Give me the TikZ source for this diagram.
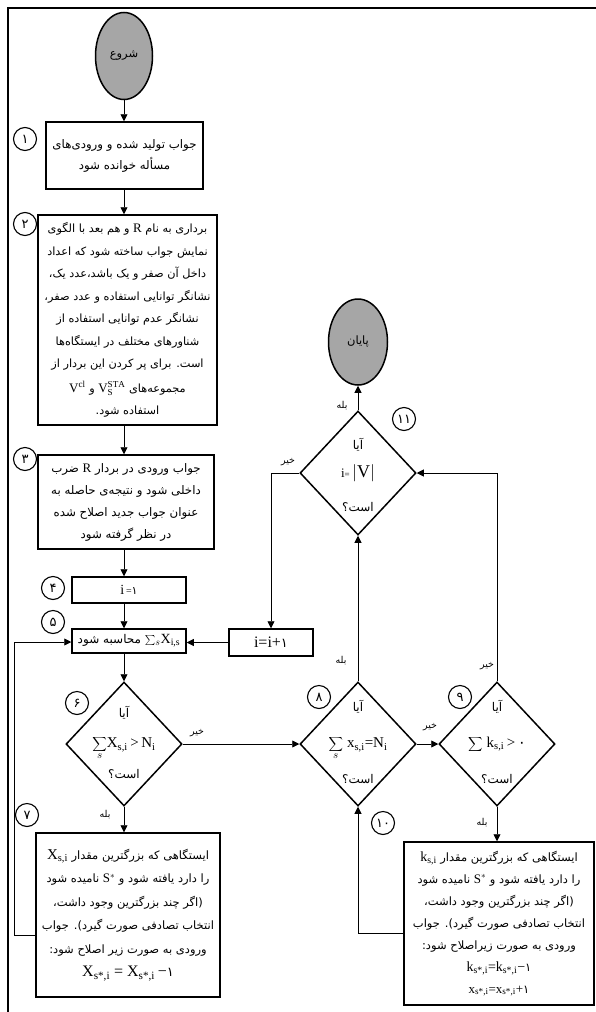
\documentclass[tikz,border=0pt]{standalone}
\usepackage{fontspec}
\setmainfont{Liberation Serif}
\newfontfamily\arabicfont[Script=Arabic]{DejaVu Sans}
\TeXXeTstate=1
\usetikzlibrary{shapes.geometric,arrows.meta,calc}
\definecolor{termgray}{HTML}{A6A6A6}
\newcommand\FA[1]{{\arabicfont\beginR #1\endR}}
\newcommand\LT[1]{\beginL{\rmfamily\fontsize{13}{13}\selectfont #1}\endL{}}
\newcommand\PD[1]{{\arabicfont #1}}
\begin{document}
\begin{tikzpicture}[x=1pt,y=-1pt,
  box/.style={draw, line width=1.5pt, align=center, inner sep=0pt, font=\fontsize{12}{22}\selectfont},
  dia/.style={diamond, draw, line width=1.5pt, minimum width=116pt, minimum height=124pt, inner sep=0pt},
  term/.style={ellipse, draw, line width=1.5pt, fill=termgray, inner sep=0pt, font=\fontsize{11.5}{12}\selectfont},
  num/.style={circle, draw, line width=1.1pt, minimum size=23pt, inner sep=0pt, font=\arabicfont\fontsize{13}{13}\selectfont},
  arr/.style={-{Triangle[length=7pt,width=7pt]}, line width=0.8pt},
  lab/.style={inner sep=0pt, font=\arabicfont\fontsize{9.5}{10}\selectfont},
  dtxt/.style={inner sep=0pt, align=center, font=\fontsize{12}{13}\selectfont},
  form/.style={inner sep=0pt, font=\fontsize{15}{15}\selectfont}]
\useasboundingbox (0,0) rectangle (596,1012);
% frame
\draw[line width=1.8pt] (8,1012) -- (8,8) -- (596,8);
% terminals
\node[term, minimum width=57pt, minimum height=87pt] (start) at (124,56) {\FA{شروع}};
\node[term, minimum width=59pt, minimum height=86pt] (end) at (358,342) {\FA{پایان}};
% boxes
\node[box, minimum width=157pt, minimum height=67pt, font=\fontsize{11.8}{21}\selectfont] (b1) at (124.5,155.5)
  {\FA{جواب تولید شده و ورودی‌های}\\\FA{مسأله خوانده شود}};
\node[box, minimum width=179pt, minimum height=210pt, font=\fontsize{11.3}{22.5}\selectfont] (b2) at (127.5,320)
  {\FA{برداری به نام \LT{R} و هم بعد با الگوی}\\
   \FA{نمایش جواب ساخته شود که اعداد}\\
   \FA{داخل آن صفر و یک باشد،عدد یک،}\\
   \FA{نشانگر توانایی استفاده و عدد صفر،}\\
   \FA{نشانگر عدم توانایی استفاده از}\\
   \FA{شناورهای مختلف در ایستگاه‌ها}\\
   \FA{است. برای پر کردن این بردار از}\\[2pt]
   \FA{مجموعه‌های \LT{$\mathrm{V}_{\mathrm{S}}^{\mathrm{STA}}$} و \LT{V$^{\mathrm{cl}}$}}\\
   \FA{استفاده شود.}};
\node[box, minimum width=176pt, minimum height=94pt, font=\fontsize{11.8}{22}\selectfont] (b3) at (126,502)
  {\FA{جواب ورودی در بردار \LT{R} ضرب}\\
   \FA{داخلی شود و نتیجه‌ی حاصله به}\\
   \FA{عنوان جواب جدید اصلاح شده}\\
   \FA{در نظر گرفته شود}};
\node[box, minimum width=114pt, minimum height=26pt] (b4) at (129,590)
  {{\rmfamily\fontsize{14}{14}\selectfont i}{\fontsize{10}{10}\selectfont\,=}\PD{\fontsize{11}{11}\selectfont ۱}};
\node[box, minimum width=114pt, minimum height=24pt] (b5) at (129,641)
  {\FA{\LT{\fontsize{14}{14}\selectfont$\sum_{s}$X\textsubscript{i,s}} محاسبه شود}};
\node[box, minimum width=84pt, minimum height=27pt, font=\fontsize{16}{16}\selectfont] (inc) at (271,642.5)
  {i=i+\PD{\fontsize{13}{13}\selectfont ۱}};
\node[box, minimum width=184pt, minimum height=164pt, font=\fontsize{11.5}{23.5}\selectfont] (b7) at (128,915)
  {\FA{ایستگاهی که بزرگترین مقدار \LT{\fontsize{15}{15}\selectfont X\textsubscript{s,i}}}\\
   \FA{را دارد یافته شود و \LT{S$^*$} نامیده شود}\\
   \FA{(اگر چند بزرگترین وجود داشت،}\\
   \FA{انتخاب تصادفی صورت گیرد). جواب}\\
   \FA{ورودی به صورت زیر اصلاح شود:}\\
   {\fontsize{16}{16}\selectfont X\textsubscript{s*,i} = X\textsubscript{s*,i}\,−}\PD{\fontsize{13}{13}\selectfont ۱}};
\node[box, minimum width=190pt, minimum height=163pt, font=\fontsize{11.5}{22}\selectfont] (b10) at (499,923.5)
  {\FA{ایستگاهی که بزرگترین مقدار \LT{\fontsize{14}{14}\selectfont k\textsubscript{s,i}}}\\
   \FA{را دارد یافته شود و \LT{S$^*$} نامیده شود}\\
   \FA{(اگر چند بزرگترین وجود داشت،}\\
   \FA{انتخاب تصادفی صورت گیرد). جواب}\\
   \FA{ورودی به صورت زیراصلاح شود:}\\
   {\fontsize{14}{14}\selectfont k\textsubscript{s*,i}=k\textsubscript{s*,i}−}\PD{۱}\\
   {\fontsize{13}{13}\selectfont x\textsubscript{s*,i}=x\textsubscript{s*,i}+}\PD{۱}};
% diamonds
\node[dia] (d6) at (124,744) {};
\node[dia] (d8) at (358,744) {};
\node[dia] (d9) at (497,744) {};
\node[dia] (d11) at (358,473) {};
\node[dtxt] (q6) at (124,713) {\FA{آیا}};
\node[form] (f6) at (124,748) {$\displaystyle\sum_{s}$X\textsubscript{s,i}\,>\,N\textsubscript{i}};
\node[dtxt] (e6) at (124,774) {\FA{است؟}};
\node[dtxt] (q8) at (358,707) {\FA{آیا}};
\node[form] (f8) at (358,748) {$\displaystyle\sum_{s}$\;x\textsubscript{s,i}=N\textsubscript{i}};
\node[dtxt] (e8) at (358,779) {\FA{است؟}};
\node[dtxt] (q9) at (497,707) {\FA{آیا}};
\node[form] (f9) at (497,744) {$\displaystyle\sum$\;k\textsubscript{s,i}\,>\,\PD{۰}};
\node[dtxt] (e9) at (497,779) {\FA{است؟}};
\node[dtxt] (q11) at (358,445) {\FA{آیا}};
\node[form] (f11) at (358,473) {{\fontsize{13}{13}\selectfont i}{\fontsize{9}{9}\selectfont=}\,{\fontsize{18}{18}\selectfont$|$V$|$}};
\node[dtxt] (e11) at (358,507) {\FA{است؟}};
% numbers
\node[num] (n1) at (25,139) {۱};
\node[num] (n2) at (25,224) {۲};
\node[num] (n3) at (25,459) {۳};
\node[num] (n4) at (53,588) {۴};
\node[num] (n5) at (53,622) {۵};
\node[num] (n6) at (77,703) {۶};
\node[num] (n7) at (27,815) {۷};
\node[num] (n8) at (319,697) {۸};
\node[num] (n9) at (460,697) {۹};
\node[num] (n10) at (383,823) {۱۰};
\node[num] (n11) at (404,419) {۱۱};
% main chain
\draw[arr] (start.south) -- (start.south |- b1.north);
\draw[arr] (b1.south -| start) -- (b2.north -| start);
\draw[arr] (b2.south -| start) -- (b3.north -| start);
\draw[arr] (b3.south -| start) -- (b4.north -| start);
\draw[arr] (b4.south -| start) -- (b5.north -| start);
\draw[arr] (b5.south -| start) -- (d6.north);
\draw[arr] (d6.south) -- (d6.south |- b7.north);
\draw[arr] (d6.east) -- (d8.west);
\draw[arr] (d8.east) -- (d9.west);
\draw[arr] (d8.north) -- (d11.south);
\draw[arr] (d11.north) -- (end.south);
\draw[arr] (d9.south) -- (d9.south |- b10.north);
\draw[arr] (d9.north) -- (d9.north |- d11.east) -- (d11.east);
\draw[arr] (d11.west) -- (d11.west -| inc.north) -- (inc.north);
\draw[arr] (inc.west) -- (inc.west -| b5.east);
\coordinate (L1) at (14,935);
\coordinate (L2) at (14,642);
\draw[arr] (b7.west |- L1) -- (L1) -- (L2) -- (L2 -| b5.west);
\coordinate (R1) at (358,933);
\draw[arr] (b10.west |- R1) -- (R1) -- (d8.south);
% labels
\node[lab] (l6r) at (197,733) {خیر};
\node[lab] (l6b) at (105,815) {بله};
\node[lab] (l8) at (341,661) {بله};
\node[lab] (l89) at (430,727) {خیر};
\node[lab] (l9) at (487,666) {خیر};
\node[lab] (l9b) at (482,823) {بله};
\node[lab] (l11) at (342,406) {بله};
\node[lab] (l11w) at (288,462) {خیر};
\end{tikzpicture}
\end{document}
